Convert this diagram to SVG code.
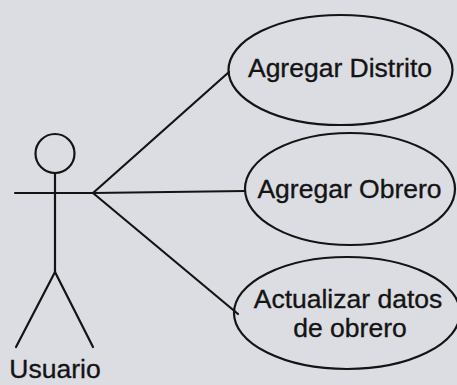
<svg xmlns="http://www.w3.org/2000/svg" width="457" height="385" viewBox="0 0 457 385">
<style>
.bg{fill:#dcdde2}
.ln{stroke:#141414;stroke-width:2.2;fill:none;stroke-linecap:round}
.uc{fill:none;stroke:#141414;stroke-width:2.2}
.t{font-family:"Liberation Sans",Arial,sans-serif;font-size:26.5px;fill:#141414;stroke:#141414;stroke-width:0.35;text-anchor:middle}
</style>
<rect class="bg" x="0" y="0" width="457" height="385"/>
<g id="actor-usuario">
<circle class="ln" cx="55" cy="153.5" r="19.5"/>
<line class="ln" x1="55" y1="173" x2="55" y2="272"/>
<line class="ln" x1="15" y1="193" x2="93" y2="193"/>
<line class="ln" x1="55" y1="272" x2="16" y2="347"/>
<line class="ln" x1="55" y1="272" x2="93" y2="347"/>
<text class="t" x="55" y="378">Usuario</text>
</g>
<g id="connectors">
<line class="ln" x1="93" y1="193" x2="229" y2="72"/>
<line class="ln" x1="93" y1="193" x2="245" y2="191"/>
<line class="ln" x1="93" y1="193" x2="238" y2="314"/>
</g>
<g id="uc-agregar-distrito">
<ellipse class="uc" cx="340.5" cy="70" rx="112" ry="55"/>
<text class="t" x="340" y="77">Agregar Distrito</text>
</g>
<g id="uc-agregar-obrero">
<ellipse class="uc" cx="350" cy="189" rx="105" ry="56"/>
<text class="t" x="349.5" y="198">Agregar Obrero</text>
</g>
<g id="uc-actualizar-datos">
<ellipse class="uc" cx="347" cy="313" rx="113" ry="56"/>
<text class="t" x="348" y="308">Actualizar datos</text>
<text class="t" x="350" y="337">de obrero</text>
</g>
</svg>
